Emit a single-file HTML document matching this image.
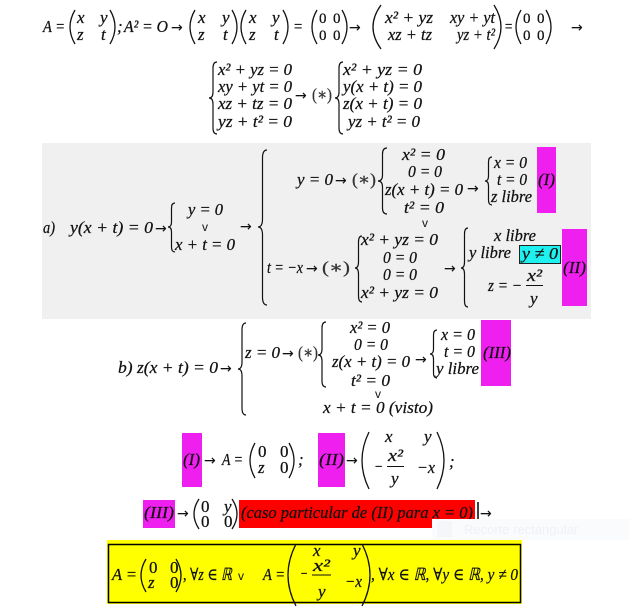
<!DOCTYPE html>
<html><head><meta charset="utf-8">
<style>
html,body{margin:0;padding:0;background:#fff;width:629px;height:607px;overflow:hidden}
svg{display:block}
text{font-family:"Liberation Serif","DejaVu Serif",serif;font-style:italic;font-size:17px;fill:#111;stroke:#111;stroke-width:0.25}
.u{font-style:normal}
.z{font-style:normal;font-size:15px}
.s{font-family:"Liberation Sans","DejaVu Sans",sans-serif;font-style:normal;font-size:12px;stroke:none}
.g{font-style:normal;fill:#333;stroke:#333}
.a{font-family:"DejaVu Sans",sans-serif;font-style:normal;font-size:14px;stroke-width:0.1}
path.b{fill:none;stroke:#111;stroke-width:1.2}
path.p{fill:none;stroke:#111;stroke-width:1.3}
</style></head>
<body>
<svg width="629" height="607" viewBox="0 0 629 607" xmlns="http://www.w3.org/2000/svg">

<!-- LINE 1 -->
<text x="43" y="32" textLength="22" lengthAdjust="spacingAndGlyphs">A =</text>
<path class="p" d="M75,10 Q65,27 75,44"/>
<text x="77" y="23">x</text><text x="100" y="23">y</text>
<text x="77" y="40">z</text><text x="101" y="40">t</text>
<path class="p" d="M110,10 Q120,27 110,44"/>
<text x="117" y="32">;</text>
<text x="124" y="32" textLength="44" lengthAdjust="spacingAndGlyphs">A² = O</text>
<text class="a" x="171" y="32">→</text>
<path class="p" d="M195,10 Q185,27 195,44"/>
<text x="198" y="23">x</text><text x="222" y="23">y</text>
<text x="198" y="40">z</text><text x="223" y="40">t</text>
<path class="p" d="M232,10 Q242,27 232,44"/>
<path class="p" d="M246,10 Q236,27 246,44"/>
<text x="249" y="23">x</text><text x="272" y="23">y</text>
<text x="249" y="40">z</text><text x="274" y="40">t</text>
<path class="p" d="M283,10 Q293,27 283,44"/>
<text x="293" y="32" textLength="10" lengthAdjust="spacingAndGlyphs">=</text>
<path class="p" d="M317,10 Q307,27 317,44"/>
<text class="z" x="319" y="23">0</text><text class="z" x="333" y="23">0</text>
<text class="z" x="319" y="40">0</text><text class="z" x="333" y="40">0</text>
<path class="p" d="M342,10 Q352,27 342,44"/>
<text class="a" x="349" y="32">→</text>
<path class="p" d="M381,5 Q365,27 381,49"/>
<text x="385" y="23" textLength="48" lengthAdjust="spacingAndGlyphs">x² + yz</text>
<text x="450" y="23" textLength="45" lengthAdjust="spacingAndGlyphs">xy + yt</text>
<text x="388" y="40" textLength="44" lengthAdjust="spacingAndGlyphs">xz + tz</text>
<text x="457" y="40" textLength="38" lengthAdjust="spacingAndGlyphs">yz + t²</text>
<path class="p" d="M494,5 Q508,27 494,49"/>
<text x="504" y="32" textLength="9" lengthAdjust="spacingAndGlyphs">=</text>
<path class="p" d="M521,10 Q511,27 521,44"/>
<text class="z" x="523" y="23">0</text><text class="z" x="537" y="23">0</text>
<text class="z" x="523" y="40">0</text><text class="z" x="537" y="40">0</text>
<path class="p" d="M546,10 Q556,27 546,44"/>
<text class="a" x="571" y="32">→</text>

<!-- LINE 2 systems -->
<path class="b" d="M217,62 Q213,62 213,68 L213,92 Q213,98 209,98 Q213,98 213,104 L213,128 Q213,134 217,134"/>
<text x="218" y="75" textLength="74" lengthAdjust="spacingAndGlyphs">x² + yz = 0</text>
<text x="218" y="92" textLength="74" lengthAdjust="spacingAndGlyphs">xy + yt = 0</text>
<text x="218" y="109" textLength="74" lengthAdjust="spacingAndGlyphs">xz + tz = 0</text>
<text x="218" y="127" textLength="74" lengthAdjust="spacingAndGlyphs">yz + t² = 0</text>
<text class="a" x="295" y="100">→</text>
<text class="g" x="312" y="100" textLength="20" lengthAdjust="spacingAndGlyphs">(∗)</text>
<path class="b" d="M343,62 Q339,62 339,68 L339,92 Q339,98 335,98 Q339,98 339,104 L339,128 Q339,134 343,134"/>
<text x="343" y="75" textLength="79" lengthAdjust="spacingAndGlyphs">x² + yz =  0</text>
<text x="343" y="92" textLength="79" lengthAdjust="spacingAndGlyphs">y(x + t) = 0</text>
<text x="343" y="109" textLength="79" lengthAdjust="spacingAndGlyphs">z(x + t) = 0</text>
<text x="348" y="127" textLength="72" lengthAdjust="spacingAndGlyphs">yz + t² = 0</text>

<!-- GRAY SECTION a -->
<rect x="42" y="143" width="549" height="176" fill="#f0f0f0"/>
<text x="43" y="233" textLength="12" lengthAdjust="spacingAndGlyphs">a)</text>
<text x="70" y="233" textLength="83" lengthAdjust="spacingAndGlyphs">y(x + t) = 0</text>
<text class="a" x="155" y="233">→</text>
<path class="b" d="M175,203 Q171.5,203 171.5,208 L171.5,222 Q171.5,227 168,227 Q171.5,227 171.5,232 L171.5,247 Q171.5,252 175,252"/>
<text x="188" y="215" textLength="35" lengthAdjust="spacingAndGlyphs">y = 0</text>
<text class="s" x="202" y="231">v</text>
<text x="175" y="250" textLength="60" lengthAdjust="spacingAndGlyphs">x + t = 0</text>
<text class="a" x="240" y="231">→</text>
<path class="b" d="M267,150 Q262.5,150 262.5,158 L262.5,219 Q262.5,227 258,227 Q262.5,227 262.5,235 L262.5,297 Q262.5,305 267,305"/>

<text x="297" y="185" textLength="36" lengthAdjust="spacingAndGlyphs">y = 0</text>
<text class="a" x="335" y="185">→</text>
<text class="g" x="352" y="185" textLength="24" lengthAdjust="spacingAndGlyphs">(∗)</text>
<path class="b" d="M387,148 Q382.5,148 382.5,154 L382.5,175 Q382.5,181 378,181 Q382.5,181 382.5,187 L382.5,208 Q382.5,214 387,214"/>
<text x="402" y="160" textLength="43" lengthAdjust="spacingAndGlyphs">x² = 0</text>
<text x="408" y="177" textLength="34" lengthAdjust="spacingAndGlyphs">0 = 0</text>
<text x="385" y="195" textLength="78" lengthAdjust="spacingAndGlyphs">z(x + t) = 0</text>
<text x="404" y="213" textLength="40" lengthAdjust="spacingAndGlyphs">t² = 0</text>
<text class="s" x="422" y="227">v</text>
<text class="a" x="467" y="193">→</text>
<path class="b" d="M492,157 Q488.5,157 488.5,162 L488.5,176 Q488.5,181 485,181 Q488.5,181 488.5,186 L488.5,200 Q488.5,205 492,205"/>
<text x="494" y="168" textLength="33" lengthAdjust="spacingAndGlyphs">x = 0</text>
<text x="497" y="185" textLength="30" lengthAdjust="spacingAndGlyphs">t = 0</text>
<text x="491" y="202" textLength="41" lengthAdjust="spacingAndGlyphs">z libre</text>
<rect x="537" y="147" width="19" height="66" fill="#ef1fef"/>
<text x="538" y="185" textLength="17" lengthAdjust="spacingAndGlyphs">(I)</text>

<text x="267" y="273" textLength="36" lengthAdjust="spacingAndGlyphs">t = −x</text>
<text class="a" x="306" y="273">→</text>
<text class="g" x="322" y="273" textLength="28" lengthAdjust="spacingAndGlyphs">(∗)</text>
<path class="b" d="M362,236 Q358.5,236 358.5,242 L358.5,262 Q358.5,268 355,268 Q358.5,268 358.5,274 L358.5,296 Q358.5,302 362,302"/>
<text x="361" y="245" textLength="77" lengthAdjust="spacingAndGlyphs">x² + yz = 0</text>
<text x="383" y="263" textLength="34" lengthAdjust="spacingAndGlyphs">0 = 0</text>
<text x="383" y="280" textLength="34" lengthAdjust="spacingAndGlyphs">0 = 0</text>
<text x="361" y="298" textLength="77" lengthAdjust="spacingAndGlyphs">x² + yz = 0</text>
<text class="a" x="444" y="273">→</text>
<path class="b" d="M468,228 Q464.5,228 464.5,234 L464.5,262 Q464.5,268 461,268 Q464.5,268 464.5,274 L464.5,301 Q464.5,307 468,307"/>
<text x="494" y="241" textLength="42" lengthAdjust="spacingAndGlyphs">x libre</text>
<text x="469" y="258" textLength="42" lengthAdjust="spacingAndGlyphs">y libre</text>
<rect x="519.5" y="245.5" width="41" height="18" fill="#1ff0f0" stroke="#222" stroke-width="1"/>
<text x="522" y="259" textLength="36" lengthAdjust="spacingAndGlyphs">y ≠ 0</text>
<rect x="562" y="229" width="25" height="77" fill="#ef1fef"/>
<text x="563" y="273" textLength="23" lengthAdjust="spacingAndGlyphs">(II)</text>
<text x="488" y="291" textLength="34" lengthAdjust="spacingAndGlyphs">z = −</text>
<text x="527" y="281" textLength="15" lengthAdjust="spacingAndGlyphs">x²</text>
<line x1="526" y1="285.5" x2="543" y2="285.5" stroke="#111" stroke-width="1"/>
<text x="530" y="304">y</text>

<!-- SECTION b -->
<text x="118" y="373" textLength="100" lengthAdjust="spacingAndGlyphs">b) z(x + t) = 0</text>
<text class="a" x="220" y="373">→</text>
<path class="b" d="M246,323 Q242,323 242,330 L242,362 Q242,369 238,369 Q242,369 242,376 L242,408 Q242,415 246,415"/>
<text x="245" y="358" textLength="35" lengthAdjust="spacingAndGlyphs">z = 0</text>
<text class="a" x="282" y="358">→</text>
<text class="g" x="298" y="358" textLength="20" lengthAdjust="spacingAndGlyphs">(∗)</text>
<path class="b" d="M326,322 Q322,322 322,328 L322,349 Q322,355 318,355 Q322,355 322,361 L322,381 Q322,387 326,387"/>
<text x="350" y="333" textLength="40" lengthAdjust="spacingAndGlyphs">x² = 0</text>
<text x="354" y="350" textLength="34" lengthAdjust="spacingAndGlyphs">0 = 0</text>
<text x="332" y="367" textLength="78" lengthAdjust="spacingAndGlyphs">z(x + t) = 0</text>
<text x="351" y="386" textLength="39" lengthAdjust="spacingAndGlyphs">t² = 0</text>
<text class="s" x="375" y="398">v</text>
<text x="323" y="413" textLength="110" lengthAdjust="spacingAndGlyphs">x + t = 0  (visto)</text>
<text class="a" x="415" y="364">→</text>
<path class="b" d="M437,330 Q433.5,330 433.5,335 L433.5,349 Q433.5,354 430,354 Q433.5,354 433.5,359 L433.5,373 Q433.5,378 437,378"/>
<text x="441" y="340" textLength="34" lengthAdjust="spacingAndGlyphs">x = 0</text>
<text x="444" y="357" textLength="31" lengthAdjust="spacingAndGlyphs">t = 0</text>
<text x="436" y="374" textLength="43" lengthAdjust="spacingAndGlyphs">y libre</text>
<rect x="481" y="320" width="30" height="66" fill="#ef1fef"/>
<text x="483" y="358" textLength="28" lengthAdjust="spacingAndGlyphs">(III)</text>

<!-- (I) / (II) line -->
<rect x="182" y="433" width="20" height="54" fill="#ef1fef"/>
<text x="183" y="465" textLength="17" lengthAdjust="spacingAndGlyphs">(I)</text>
<text class="a" x="204" y="465">→</text>
<text x="222" y="465" textLength="21" lengthAdjust="spacingAndGlyphs">A =</text>
<path class="p" d="M255,443 Q245,460.5 255,478"/>
<text class="u" x="258" y="457">0</text><text class="u" x="280" y="457">0</text>
<text x="258" y="473">z</text><text class="u" x="280" y="473">0</text>
<path class="p" d="M289,443 Q299,460.5 289,478"/>
<text x="298" y="465">;</text>
<rect x="318" y="433" width="27" height="54" fill="#ef1fef"/>
<text x="319" y="465" textLength="25" lengthAdjust="spacingAndGlyphs">(II)</text>
<text class="a" x="346" y="465">→</text>
<path class="p" d="M369,432 Q355,460.5 369,489"/>
<text x="385" y="442">x</text><text x="424" y="442">y</text>
<text x="374" y="472" textLength="9" lengthAdjust="spacingAndGlyphs">−</text>
<text x="388" y="461" textLength="15" lengthAdjust="spacingAndGlyphs">x²</text>
<line x1="387" y1="466.5" x2="404" y2="466.5" stroke="#111" stroke-width="1"/>
<text x="391" y="484">y</text>
<text x="417" y="473" textLength="18" lengthAdjust="spacingAndGlyphs">−x</text>
<path class="p" d="M437,432 Q451,460.5 437,489"/>
<text x="449" y="467">;</text>

<!-- (III) line -->
<rect x="143" y="500" width="32" height="28" fill="#ef1fef"/>
<text x="144" y="518" textLength="30" lengthAdjust="spacingAndGlyphs">(III)</text>
<text class="a" x="177" y="518">→</text>
<path class="p" d="M199,499 Q189,514 199,529"/>
<text class="u" x="201" y="512">0</text><text x="224" y="512">y</text>
<text class="u" x="201" y="527">0</text><text class="u" x="224" y="527">0</text>
<path class="p" d="M232,499 Q242,514 232,529"/>
<rect x="239" y="500" width="236" height="28" fill="#ff0000"/>
<text x="241" y="518" textLength="232" lengthAdjust="spacingAndGlyphs">(caso particular de (II) para x = 0)</text>
<line x1="478" y1="502" x2="478" y2="525" stroke="#000" stroke-width="1.5"/>
<text class="a" x="480" y="518">→</text>

<!-- faint tooltip -->
<rect x="432" y="519" width="197" height="21" fill="#fafbfd"/>
<rect x="437" y="521" width="15" height="16" fill="#f4f6f9"/>
<text x="464" y="534" style="font-family:'Liberation Sans',sans-serif;font-style:normal;font-size:13px;fill:#eef1f5;stroke:none">Recorte rectangular</text>

<!-- YELLOW BOX -->
<rect x="107" y="540" width="415" height="64" fill="#ffff00"/>
<rect x="108.5" y="544.5" width="412" height="58" fill="none" stroke="#000" stroke-width="1.5"/>
<text x="112" y="580" textLength="25" lengthAdjust="spacingAndGlyphs">A =</text>
<path class="p" d="M146,559 Q136,575.5 146,592"/>
<text class="u" x="149" y="573">0</text><text class="u" x="170" y="573">0</text>
<text x="148" y="588">z</text><text class="u" x="170" y="588">0</text>
<path class="p" d="M176,559 Q186,575.5 176,592"/>
<text x="183" y="580" textLength="49" lengthAdjust="spacingAndGlyphs">, ∀z ∈ ℝ</text>
<text class="s" x="238" y="580">v</text>
<text x="263" y="580" textLength="22" lengthAdjust="spacingAndGlyphs">A =</text>
<path class="p" d="M296,544 Q280,575 296,606"/>
<text x="313" y="556">x</text><text x="353" y="556">y</text>
<text x="300" y="579" textLength="8" lengthAdjust="spacingAndGlyphs">−</text>
<text x="313" y="571" textLength="17" lengthAdjust="spacingAndGlyphs">x²</text>
<line x1="312" y1="575" x2="331" y2="575" stroke="#111" stroke-width="1"/>
<text x="318" y="597">y</text>
<text x="345" y="587" textLength="17" lengthAdjust="spacingAndGlyphs">−x</text>
<path class="p" d="M362,544 Q378,575 362,606"/>
<text x="371" y="580" textLength="147" lengthAdjust="spacingAndGlyphs">, ∀x ∈ ℝ, ∀y ∈ ℝ, y ≠ 0</text>
</svg>
</body></html>
